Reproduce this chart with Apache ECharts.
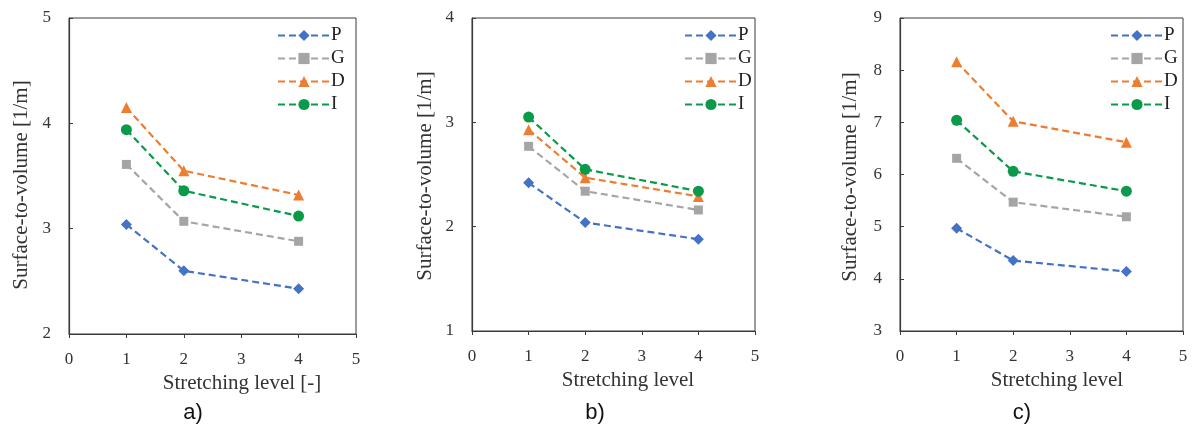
<!DOCTYPE html>
<html><head><meta charset="utf-8">
<script src="https://cdn.jsdelivr.net/npm/echarts@6/dist/echarts.min.js"></script>
<style>html,body{margin:0;padding:0;background:#fff}#c{width:1198px;height:433px}</style>
</head><body><div id="c"></div>
<script>
const stretchLevels = [1, 2, 4];
const seriesNames = ['P', 'G', 'D', 'I'];
const xTicks = [0, 1, 2, 3, 4, 5];
// panel a
const aP = [3.04, 2.60, 2.43];
const aG = [3.61, 3.07, 2.88];
const aD = [4.15, 3.55, 3.32];
const aI = [3.94, 3.36, 3.12];
// panel b
const bP = [2.42, 2.04, 1.88];
const bG = [2.77, 2.34, 2.16];
const bD = [2.93, 2.47, 2.29];
const bI = [3.05, 2.55, 2.34];
// panel c
const cP = [4.97, 4.35, 4.14];
const cG = [6.31, 5.47, 5.19];
const cD = [8.16, 7.02, 6.62];
const cI = [7.04, 6.06, 5.68];
const yRanges = [[2, 5], [1, 4], [3, 9]];
const xNames = ['Stretching level [-]', 'Stretching level', 'Stretching level'];
const yName = 'Surface-to-volume [1/m]';
const panelLabels = ['a)', 'b)', 'c)'];

const panels = [[aP, aG, aD, aI], [bP, bG, bD, bI], [cP, cG, cD, cI]];
const colors = ['#4472C4', '#A5A5A5', '#ED7D31', '#0A9A4A'];
const symbols = ['diamond', 'rect', 'triangle', 'circle'];
const symSizes = [11, 9, 11, 11];

const layout = [
  {left: 69, width: 287, top: 18, height: 316, legLeft: 272, ynameGap: 37, ypadR: 18, xpad: 59, labelX: 188},
  {left: 472, width: 283, top: 18, height: 313, legLeft: 679, ynameGap: 36, ypadR: 3, xpad: 29, labelX: 590},
  {left: 900, width: 283, top: 18, height: 313, legLeft: 1105, ynameGap: 39, ypadR: 5, xpad: 31, labelX: 1017}
];
const serif = 'Liberation Serif';
const axisColor = '#3a3a3a';
const grid = [], xAxis = [], yAxis = [], series = [], legend = [], title = [];
layout.forEach((L, i) => {
  grid.push({left: L.left, top: L.top, width: L.width, height: L.height, show: true, borderColor: axisColor, borderWidth: 1, containLabel: false});
  xAxis.push({type: 'value', gridIndex: i, min: xTicks[0], max: xTicks[xTicks.length - 1], interval: 1,
    name: xNames[i], nameLocation: 'middle', nameGap: 37,
    nameTextStyle: {fontFamily: serif, fontSize: 21, color: '#333', padding: [0, 0, 0, L.xpad]},
    axisLine: {lineStyle: {color: axisColor, width: 1.2}}, axisTick: {show: true, length: 4, lineStyle: {color: axisColor}},
    axisLabel: {fontFamily: serif, fontSize: 17, color: '#333', margin: 17}, splitLine: {show: false}});
  yAxis.push({type: 'value', gridIndex: i, min: yRanges[i][0], max: yRanges[i][1], interval: 1,
    name: yName, nameLocation: 'middle', nameGap: L.ynameGap, nameRotate: 90,
    nameTextStyle: {fontFamily: serif, fontSize: 21, color: '#333', padding: [0, L.ypadR, 0, 0]},
    axisLine: {lineStyle: {color: axisColor, width: 1.2}}, axisTick: {show: true, inside: true, length: 4, lineStyle: {color: axisColor}},
    axisLabel: {fontFamily: serif, fontSize: 17, color: '#333', margin: 18}, splitLine: {show: false}});
  const names = [];
  panels[i].forEach((vals, k) => {
    const nm = seriesNames[k] + (i === 0 ? '' : '\u200b'.repeat(i));
    names.push({name: nm});
    series.push({type: 'line', name: nm, xAxisIndex: i, yAxisIndex: i,
      data: stretchLevels.map((x, j) => [x, vals[j]]),
      symbol: symbols[k], symbolSize: symSizes[k],
      lineStyle: {color: colors[k], width: 2.2, type: [7, 4]},
      itemStyle: {color: colors[k]}, z: 3 + k});
  });
  legend.push({data: names, left: L.legLeft, top: 21, orient: 'vertical', itemGap: 4, itemWidth: 52, itemHeight: 14,
    textStyle: {fontFamily: serif, fontSize: 19, color: '#222', padding: [0, 0, 0, -4]},
    formatter: n => n.replace(/\u200b/g, '')});
  title.push({text: panelLabels[i], left: L.labelX, top: 397, textAlign: 'center',
    textStyle: {fontFamily: 'Liberation Sans', fontSize: 22, fontWeight: 'normal', color: '#111'}});
});
const chart = echarts.init(document.getElementById('c'));
chart.setOption({animation: false, grid, xAxis, yAxis, series, legend, title});
</script></body></html>
